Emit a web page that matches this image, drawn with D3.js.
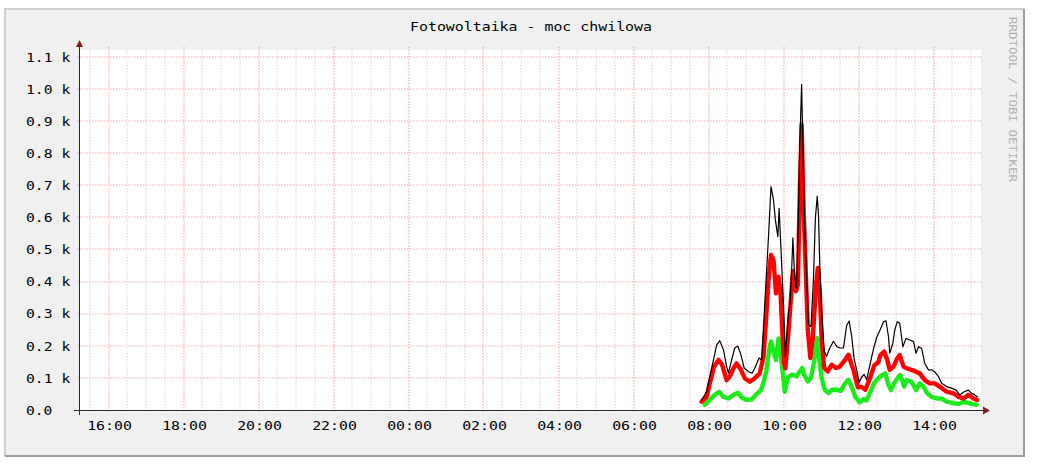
<!DOCTYPE html>
<html><head><meta charset="utf-8">
<script src="https://cdn.jsdelivr.net/npm/d3@7"></script>
<style>
body{margin:0;background:#fff}
svg{display:block}
text{font-family:"DejaVu Sans Mono","Liberation Mono",monospace}
</style>
</head><body>
<svg id="c" width="1037" height="464"></svg>
<script>
// ---- data ----
const chartTitle = "Fotowoltaika - moc chwilowa";
const watermark = "RRDTOOL / TOBI OETIKER";
const yTickValues = [0,100,200,300,400,500,600,700,800,900,1000,1100];
const yTickLabels = ["0.0","0.1 k","0.2 k","0.3 k","0.4 k","0.5 k","0.6 k","0.7 k","0.8 k","0.9 k","1.0 k","1.1 k"];
const xTickLabels = ["16:00","18:00","20:00","22:00","00:00","02:00","04:00","06:00","08:00","10:00","12:00","14:00"];
const windowStart = "2020-06-01 15:14:24";
const windowEnd   = "2020-06-02 15:14:24";
const dataDay = "2020-06-02";
const yMax = 1121;

const blackTimes = ["07:49","07:57","08:02","08:08","08:13","08:18","08:24","08:29","08:32","08:37","08:42","08:47","08:52","08:57","09:04","09:10","09:15","09:21","09:25","09:28","09:31","09:36","09:40","09:44","09:47","09:51","09:53","09:57","10:01","10:03","10:08","10:10","10:13","10:15","10:18","10:21","10:24","10:26","10:29","10:32","10:34","10:37","10:40","10:44","10:48","10:51","10:54","10:56","10:58","11:01","11:05","11:09","11:14","11:20","11:25","11:30","11:36","11:41","11:45","11:49","11:53","11:57","12:01","12:05","12:09","12:13","12:18","12:24","12:29","12:34","12:40","12:44","12:48","12:50","12:55","12:58","13:02","13:06","13:11","13:16","13:22","13:28","13:32","13:36","13:41","13:46","13:52","13:57","14:02","14:08","14:13","14:21","14:29","14:36","14:42","14:49","14:56","15:01","15:06","15:10"];
const blackValues = [31,57,104,156,202,216,187,135,115,156,193,199,171,131,119,115,135,162,156,260,363,540,696,654,592,540,628,458,280,166,307,318,432,536,411,380,619,826,1013,723,567,411,266,260,411,598,666,608,453,307,183,167,193,214,198,193,193,263,277,231,160,125,86,102,111,94,138,190,226,247,275,278,228,177,208,249,275,270,197,223,218,213,177,197,192,145,125,125,119,104,83,73,68,62,47,57,62,52,47,41];

const redTimes = ["07:49","07:57","08:02","08:09","08:16","08:22","08:29","08:34","08:40","08:45","08:52","08:58","09:06","09:14","09:22","09:28","09:32","09:36","09:40","09:44","09:48","09:52","09:55","09:58","10:01","10:03","10:08","10:12","10:15","10:20","10:23","10:26","10:29","10:32","10:36","10:39","10:43","10:47","10:52","10:55","10:58","11:01","11:05","11:11","11:17","11:24","11:30","11:37","11:44","11:49","11:52","11:55","11:59","12:05","12:11","12:18","12:25","12:32","12:35","12:41","12:46","12:50","12:56","13:02","13:06","13:12","13:17","13:25","13:32","13:38","13:46","13:54","14:02","14:10","14:21","14:32","14:40","14:48","14:56","15:04","15:10"];
const redValues = [26,41,83,135,156,140,93,104,130,145,125,99,88,99,114,166,280,405,483,467,363,415,374,249,145,130,245,349,432,370,390,671,889,640,411,245,162,224,390,442,370,224,131,120,141,131,135,152,172,141,125,100,71,72,63,97,138,150,171,182,156,125,135,161,171,135,130,125,119,114,93,83,83,73,57,52,41,36,47,36,31];

const greenTimes = ["07:54","08:02","08:10","08:17","08:24","08:32","08:40","08:47","08:53","09:01","09:09","09:17","09:24","09:29","09:33","09:37","09:40","09:44","09:48","09:52","09:56","10:00","10:02","10:07","10:14","10:21","10:26","10:30","10:33","10:39","10:44","10:49","10:54","10:57","11:01","11:06","11:12","11:18","11:25","11:32","11:38","11:44","11:50","11:55","12:02","12:08","12:13","12:18","12:25","12:32","12:38","12:43","12:48","12:52","12:57","13:04","13:07","13:13","13:17","13:25","13:32","13:38","13:44","13:50","13:57","14:05","14:13","14:21","14:32","14:40","14:48","14:58","15:09"];
const greenValues = [16,31,47,57,41,36,47,54,39,31,33,50,62,93,125,187,213,182,156,223,166,93,57,102,110,105,120,131,110,89,100,152,224,162,100,63,53,63,63,60,82,94,68,40,24,34,30,52,84,100,109,114,78,62,83,104,109,73,93,88,62,83,73,52,41,36,36,26,21,19,26,21,16];

// ---- drawing ----
const svg = d3.select("#c");
const parseFull = d3.timeParse("%Y-%m-%d %H:%M:%S");
const parseT = d3.timeParse("%Y-%m-%d %H:%M");
const t0 = parseFull(windowStart), t1 = parseFull(windowEnd);

const L = 80, R = 980, T = 50, B = 410;
const x = d3.scaleTime().domain([t0, t1]).range([L, R]);
const y = d3.scaleLinear().domain([0, yMax]).range([B, T]);

// image frame
svg.append("rect").attr("x",4).attr("y",8).attr("width",1021).attr("height",449).attr("fill","#f0f0f0");
svg.append("path").attr("d","M5,456 V9 H1024").attr("fill","none").attr("stroke","#cfcfcf").attr("stroke-width",2);
svg.append("path").attr("d","M5,456 H1024 V9").attr("fill","none").attr("stroke","#9e9e9e").attr("stroke-width",2);

// canvas
svg.append("rect").attr("x",L).attr("y",T).attr("width",R-L+1).attr("height",B-T).attr("fill","#ffffff");

const g = svg.append("g");

// minor vertical grid (every 30 min)
const minorTicks = d3.timeMinute.every(30).range(t0, t1).filter(d => !(d.getMinutes()===0 && d.getHours()%2===0));
g.selectAll(".vmin").data(minorTicks).join("line")
  .attr("x1", d => Math.round(x(d))).attr("x2", d => Math.round(x(d)))
  .attr("y1", T-3).attr("y2", B+2)
  .attr("stroke","#e8d8d8").attr("stroke-width",1.2).attr("stroke-dasharray","1.5,1.5");

// major vertical grid (every 2 h)
const majorTicks = d3.timeHour.every(2).range(t0, t1);
g.selectAll(".vmaj").data(majorTicks).join("line")
  .attr("x1", d => Math.round(x(d))).attr("x2", d => Math.round(x(d)))
  .attr("y1", T-3).attr("y2", B+3)
  .attr("stroke","#f4aaaa").attr("stroke-width",1.2).attr("stroke-dasharray","1.5,1.5");

// horizontal major grid
g.selectAll(".hmaj").data(yTickValues.slice(1)).join("line")
  .attr("x1", L-3).attr("x2", R+3)
  .attr("y1", d => Math.round(y(d))).attr("y2", d => Math.round(y(d)))
  .attr("stroke","#f4aaaa").attr("stroke-width",1.2).attr("stroke-dasharray","1.5,1.5");

// series
function series(times, values){
  return times.map((t,i) => ({t: parseT(dataDay+" "+t), v: values[i]}));
}
const line = d3.line().x(d => x(d.t)).y(d => y(d.v));
const lines = [
  {data: series(greenTimes, greenValues), color:"#1aeb1a", w:4.4},
  {data: series(redTimes, redValues), color:"#ff0000", w:4.4},
  {data: series(blackTimes, blackValues), color:"#000000", w:1.2}
];
lines.forEach(s => {
  svg.append("path").datum(s.data).attr("d", line)
    .attr("fill","none").attr("stroke", s.color).attr("stroke-width", s.w)
    .attr("stroke-linejoin","round").attr("stroke-linecap","round");
});

// axes
svg.append("line").attr("x1",L-6).attr("x2",R+4).attr("y1",B+0.5).attr("y2",B+0.5).attr("stroke","#2a2a2a");
svg.append("line").attr("x1",L-0.5).attr("x2",L-0.5).attr("y1",B+5).attr("y2",T-4).attr("stroke","#2a2a2a");
svg.append("path").attr("d",`M${L-4},${T-3} L${L+3},${T-3} L${L-0.5},${T-10} Z`).attr("fill","#801f1f");
svg.append("path").attr("d",`M${R+3},${B-3.5} L${R+3},${B+4.5} L${R+10},${B+0.5} Z`).attr("fill","#801f1f");

// y labels
const charW = 8.95;
svg.selectAll(".ylab").data(yTickValues).join("text")
  .attr("x", 26).attr("y", d => y(d)+4.8)
  .attr("font-size", 13).attr("fill","#000")
  .attr("textLength", (d,i) => yTickLabels[i].length*charW - 0.5)
  .attr("lengthAdjust","spacingAndGlyphs")
  .text((d,i) => yTickLabels[i]);

// x labels
const labelDates = xTickLabels.map((s,i) => majorTicks[i]);
svg.selectAll(".xlab").data(xTickLabels).join("text")
  .attr("x", (d,i) => x(labelDates[i])+1).attr("y", 430)
  .attr("text-anchor","middle")
  .attr("font-size", 13).attr("fill","#000")
  .attr("textLength", d => d.length*charW)
  .attr("lengthAdjust","spacingAndGlyphs")
  .text(d => d);

// title
svg.append("text").attr("x", 531).attr("y", 31).attr("text-anchor","middle")
  .attr("font-size", 12.5).attr("fill","#000")
  .attr("textLength", 242).attr("lengthAdjust","spacingAndGlyphs")
  .text(chartTitle);

// watermark
svg.append("text").attr("transform","translate(1009,17) rotate(90)")
  .attr("font-size", 11).attr("fill","#b0b0b0")
  .attr("textLength", 165).attr("lengthAdjust","spacingAndGlyphs")
  .text(watermark);
</script>
</body></html>
